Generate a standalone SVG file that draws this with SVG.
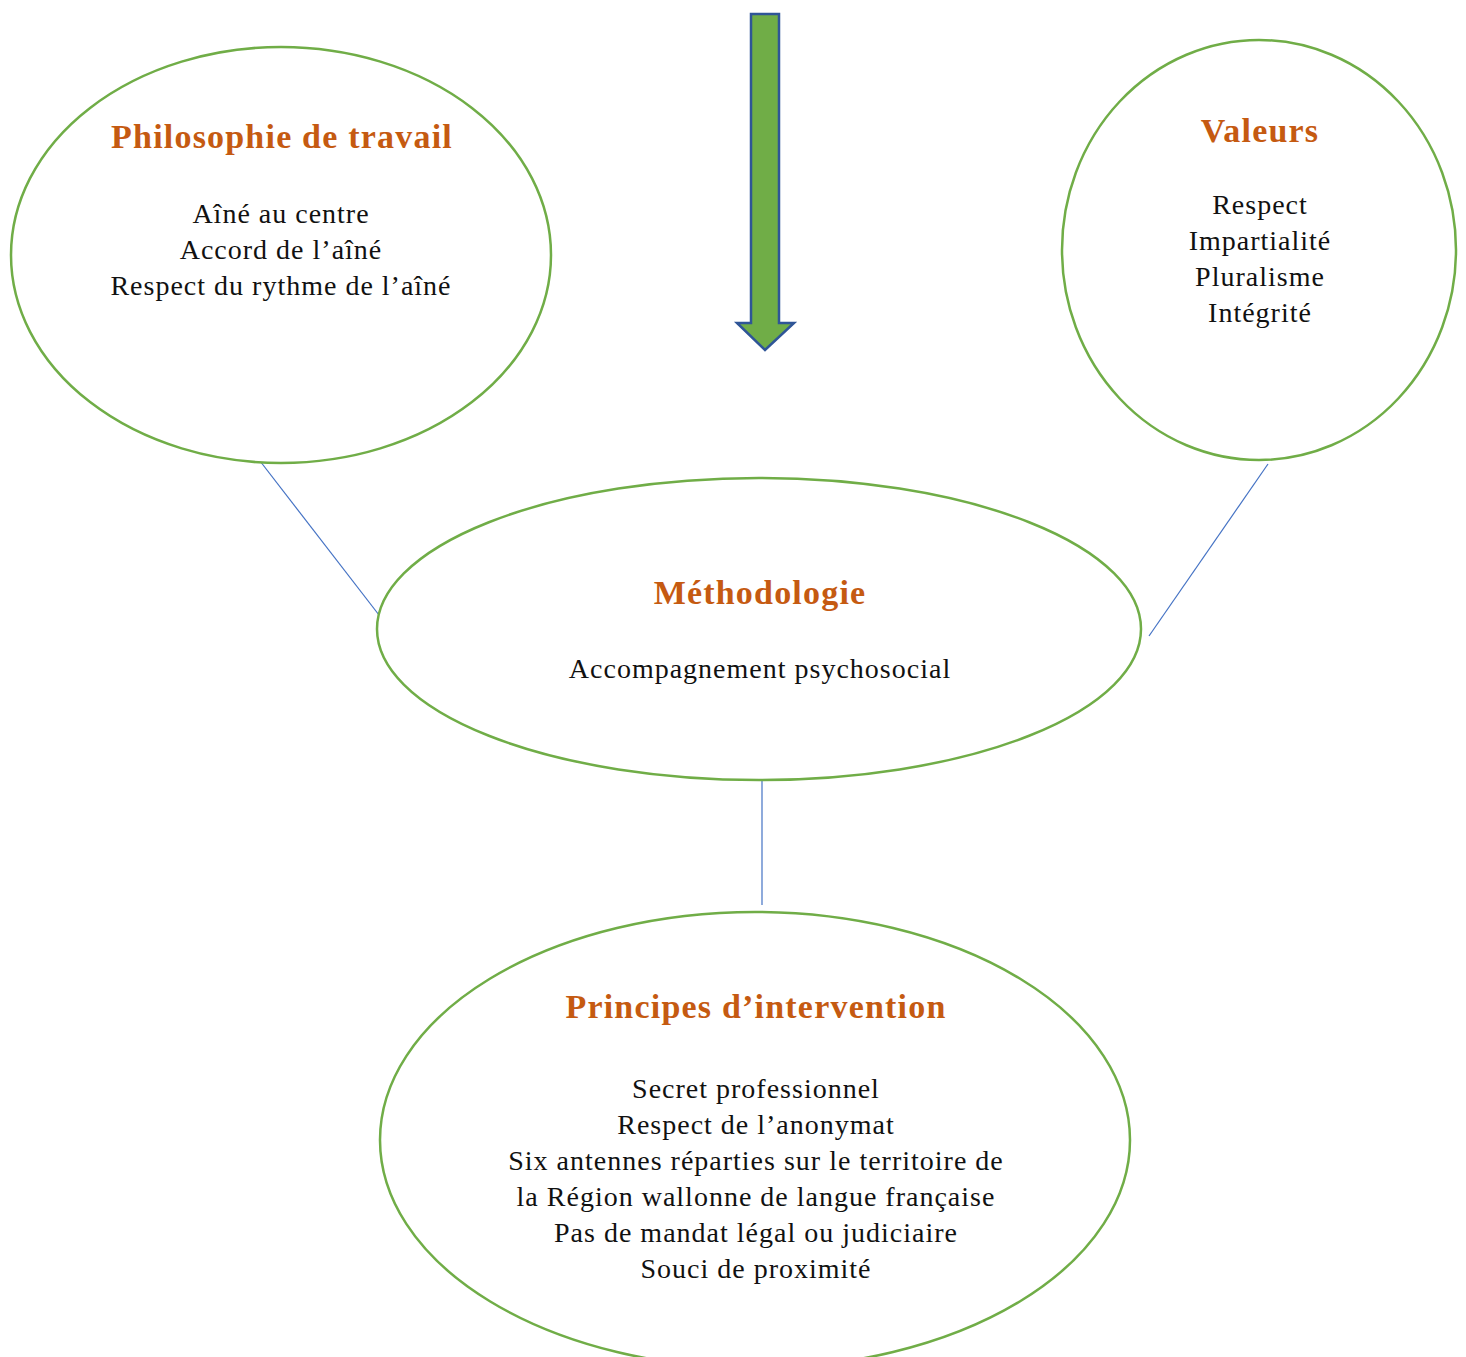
<svg xmlns="http://www.w3.org/2000/svg" width="1466" height="1357" viewBox="0 0 1466 1357">
<style>
.node{fill:#fff;stroke:#70AD47;stroke-width:2.5}
.t{font-family:"Liberation Serif","DejaVu Serif",serif;font-weight:bold;font-size:34px;letter-spacing:1.2px;fill:#C55A11;text-anchor:middle}
.b{font-family:"Liberation Serif","DejaVu Serif",serif;font-size:28px;letter-spacing:1px;fill:#111;text-anchor:middle}
.c{stroke:#4472C4;stroke-width:1.2;fill:none}
</style>
<rect width="1466" height="1357" fill="#fff"/>
<g id="connectors">
<line class="c" x1="260" y1="461" x2="379" y2="615"/>
<line class="c" x1="1268" y1="464" x2="1149" y2="636"/>
<line class="c" x1="762" y1="779" x2="762" y2="905"/>
</g>
<g id="arrow">
<path d="M751,14 H779 V323 H794 L765,350 L737,323 H751 Z" fill="#70AD47" stroke="#2F5597" stroke-width="2.5" stroke-linejoin="miter"/>
</g>
<g id="philosophie">
<ellipse class="node" cx="281" cy="255" rx="270" ry="208"/>
<text class="t" x="282" y="148">Philosophie de travail</text>
<text class="b" x="281" y="223">Aîné au centre</text>
<text class="b" x="281" y="259">Accord de l’aîné</text>
<text class="b" x="281" y="295">Respect du rythme de l’aîné</text>
</g>
<g id="valeurs">
<ellipse class="node" cx="1259" cy="250" rx="197" ry="210"/>
<text class="t" x="1260" y="142">Valeurs</text>
<text class="b" x="1260" y="214">Respect</text>
<text class="b" x="1260" y="250">Impartialité</text>
<text class="b" x="1260" y="286">Pluralisme</text>
<text class="b" x="1260" y="322">Intégrité</text>
</g>
<g id="methodologie">
<ellipse class="node" cx="759" cy="629" rx="382" ry="151"/>
<text class="t" x="760" y="604">Méthodologie</text>
<text class="b" x="760" y="678">Accompagnement psychosocial</text>
</g>
<g id="principes">
<ellipse class="node" cx="755" cy="1140" rx="375" ry="228"/>
<text class="t" x="756" y="1018">Principes d’intervention</text>
<text class="b" x="756" y="1098">Secret professionnel</text>
<text class="b" x="756" y="1134">Respect de l’anonymat</text>
<text class="b" x="756" y="1170">Six antennes réparties sur le territoire de</text>
<text class="b" x="756" y="1206">la Région wallonne de langue française</text>
<text class="b" x="756" y="1242">Pas de mandat légal ou judiciaire</text>
<text class="b" x="756" y="1278">Souci de proximité</text>
</g>
</svg>
